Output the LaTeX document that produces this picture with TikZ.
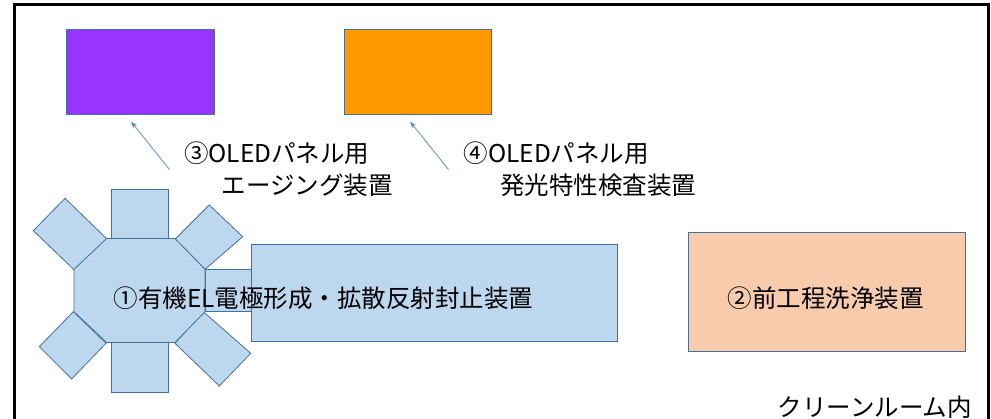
\documentclass[tikz,border=0pt]{standalone}
\usepackage{fontspec}
\setmainfont{Noto Sans CJK JP}
\usetikzlibrary{arrows.meta}
\definecolor{edgeblue}{HTML}{41719C}
\definecolor{lightblue}{HTML}{BDD7EE}
\definecolor{purplebox}{HTML}{9933FF}
\definecolor{orangebox}{HTML}{FF9900}
\definecolor{creambox}{HTML}{F8CBAD}
\definecolor{arrowblue}{HTML}{5B8DB8}
\tikzset{
  part/.style={draw=edgeblue, fill=lightblue, line width=0.8pt, line join=miter},
  boxnode/.style={draw=edgeblue, line width=0.9pt, inner sep=0pt, anchor=north west},
  lbl/.style={font=\fontsize{24.5}{30}\selectfont, inner sep=0pt, text=black},
  pointer/.style={draw=arrowblue, line width=0.8pt, -{Stealth[length=7pt,width=5pt]}},
  frame/.style={draw=black, line width=3pt}
}
\begin{document}
\begin{tikzpicture}[x=1pt,y=-1pt]
\useasboundingbox (0,0) rectangle (991,419);
% frame
\draw[frame] (14.5,425) -- (14.5,5) -- (988,5) -- (988,425);
% top boxes
\node[boxnode, fill=purplebox, minimum width=148pt, minimum height=85pt] (aging) at (66,29) {};
\node[boxnode, fill=orangebox, minimum width=147pt, minimum height=85pt] (inspect) at (343.5,29) {};
% cleaning box
\node[boxnode, fill=creambox, minimum width=277pt, minimum height=119pt] (clean) at (687.5,232) {};
% main line box and connector
\node[boxnode, part, minimum width=46pt, minimum height=42pt] (link) at (205,269.5) {};
\node[boxnode, part, minimum width=366pt, minimum height=97pt] (line) at (251,244) {};
% chambers around octagon
\draw[part] (111,189) rectangle (168,238.5);
\draw[part] (111,342.5) rectangle (168,392);
\draw[part] (107.3,239.3) -- (65,198.3) -- (33.3,230.7) -- (75,270.7) -- cycle;
\draw[part] (175,239.3) -- (209.3,205) -- (242.7,236.7) -- (205,269.3) -- cycle;
\draw[part] (73.3,311.7) -- (39.3,346.7) -- (71.7,379) -- (106,343.3) -- cycle;
\draw[part] (203.3,311.7) -- (250.7,353.3) -- (219.3,386) -- (175,343.3) -- cycle;
% transfer octagon
\draw[part] (106.7,238.5) -- (175,238.5) -- (205,269.3) -- (205,311.7) -- (175,342.5)
  -- (106.7,342.5) -- (74,311.7) -- (74,269.3) -- cycle;
% labels
\node[lbl] (t1) at (323.5,298.5) {①有機EL電極形成・拡散反射封止装置};
\node[lbl] (t2) at (825.5,298.5) {②前工程洗浄装置};
\node[lbl, anchor=west] (t3a) at (184,153.5) {③OLEDパネル用};
\node[lbl, anchor=west] (t3b) at (221.5,185.5) {エージング装置};
\node[lbl, anchor=west] (t4a) at (463.5,153.5) {④OLEDパネル用};
\node[lbl, anchor=west] (t4b) at (500,185.5) {発光特性検査装置};
\node[lbl, anchor=east] (room) at (972,407) {クリーンルーム内};
% pointers
\coordinate (p3) at (169.5,169.5);
\coordinate (q3) at (131,121.5);
\coordinate (p4) at (448.5,169.5);
\coordinate (q4) at (410,121.5);
\draw[pointer] (p3) -- (q3);
\draw[pointer] (p4) -- (q4);
\end{tikzpicture}
\end{document}
